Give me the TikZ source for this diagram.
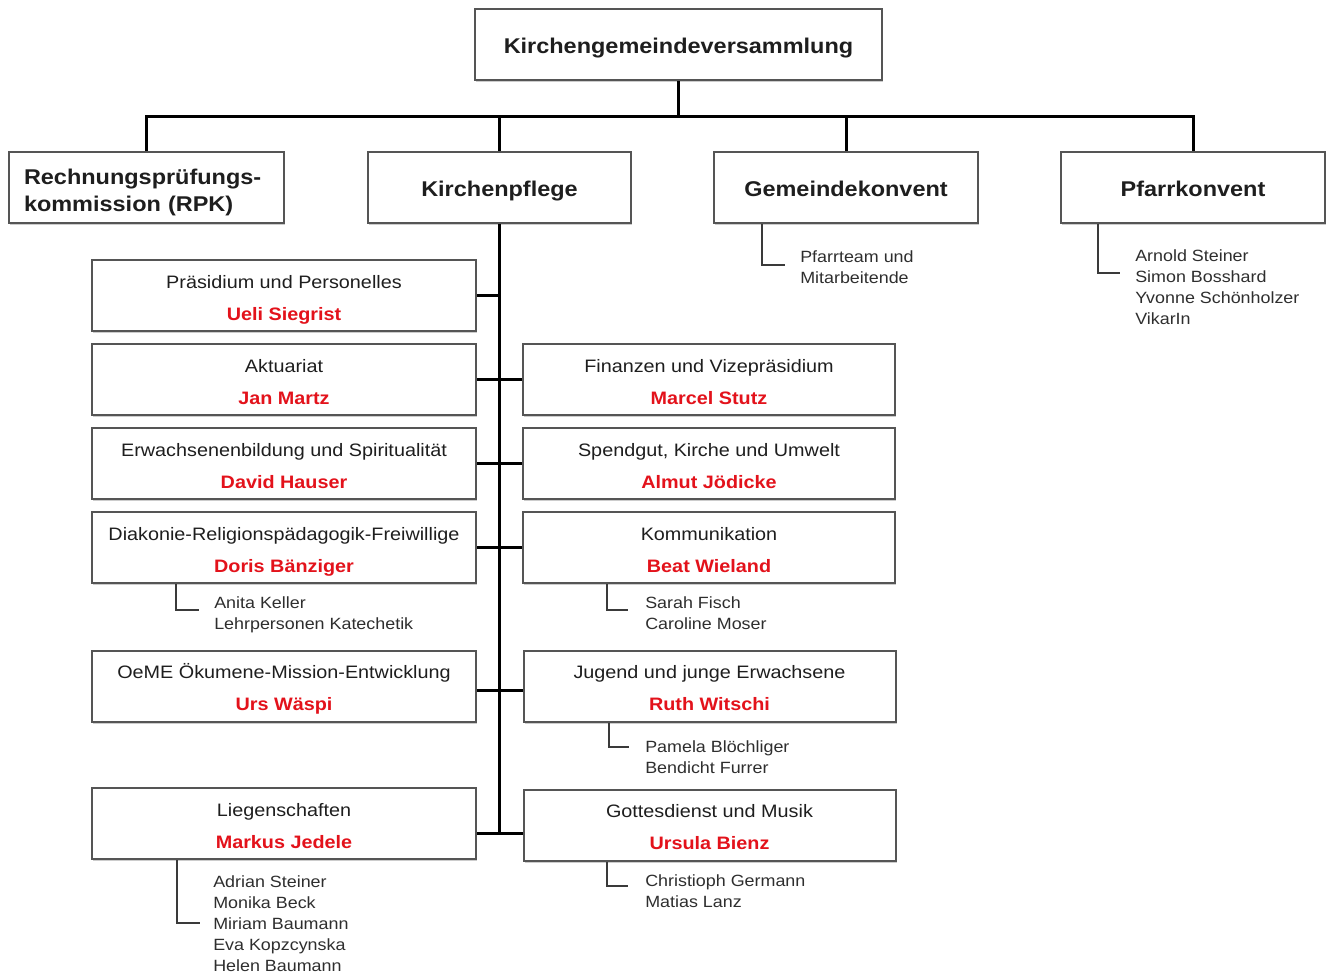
\documentclass[tikz,border=0pt]{standalone}
\usepackage{fontspec}
\setmainfont{Liberation Sans}[FakeStretch=1.1]
\usetikzlibrary{shadows}
\definecolor{boxline}{HTML}{555555}
\definecolor{txt}{HTML}{1E1E1E}
\definecolor{namered}{HTML}{E3121B}
\definecolor{subtxt}{HTML}{2E2E2E}
\definecolor{subline}{HTML}{3A3A3A}
\newcommand\unitname[1]{{\bfseries\color{namered}#1}}
\newcommand\unittext[2]{\rule{0pt}{16pt}#1\\\unitname{#2}\rule[-3pt]{0pt}{3pt}}
\newcommand\headtext[1]{\rule{0pt}{17.5pt}#1\rule[-3.5pt]{0pt}{3.5pt}}
\begin{document}
\begin{tikzpicture}[x=0.75pt,y=-0.75pt,
  box/.style={draw=boxline, line width=1.5pt, fill=white, inner sep=0pt, minimum height=53.25pt,
    drop shadow={opacity=0.2, shadow xshift=1pt, shadow yshift=-1.5pt, fill=black}},
  head/.style={box, font=\fontsize{16}{20.5}\selectfont\bfseries, text=txt, align=center},
  unitl/.style={box, minimum width=288pt, font=\fontsize{13.5}{24}\selectfont, text=txt, align=center},
  unitr/.style={unitl, minimum width=279pt},
  conn/.style={line width=2.25pt, black},
  subl/.style={line width=1.5pt, subline},
  list/.style={anchor=north west, inner sep=0pt, align=left, font=\fontsize{12.2}{15.75}\selectfont, text=subtxt},
]
\useasboundingbox (0,0) rectangle (1330,976);

% top level
\node[head, minimum width=305.25pt] (kgv) at (678.5,44.5) {\headtext{Kirchengemeindeversammlung}};
\node[head, minimum width=206.25pt, text width=183.75pt, align=left] (rpk) at (146.5,187.5) {\rule{0pt}{19pt}Rechnungsprüfungs-\\kommission (RPK)\rule[-3.5pt]{0pt}{3.5pt}};
\node[head, minimum width=197.25pt] (kp) at (499.5,187.5) {\headtext{Kirchenpflege}};
\node[head, minimum width=198pt] (gk) at (846,187.5) {\headtext{Gemeindekonvent}};
\node[head, minimum width=198pt] (pk) at (1193,187.5) {\headtext{Pfarrkonvent}};

% left column
\node[unitl] (u1) at (284,295.5) {\unittext{Präsidium und Personelles}{Ueli Siegrist}};
\node[unitl] (u2) at (284,379.5) {\unittext{Aktuariat}{Jan Martz}};
\node[unitl] (u3) at (284,463.5) {\unittext{Erwachsenenbildung und Spiritualität}{David Hauser}};
\node[unitl] (u4) at (284,547.5) {\unittext{Diakonie-Religionspädagogik-Freiwillige}{Doris Bänziger}};
\node[unitl] (u5) at (284,686) {\unittext{OeME Ökumene-Mission-Entwicklung}{Urs Wäspi}};
\node[unitl] (u6) at (284,823.5) {\unittext{Liegenschaften}{Markus Jedele}};

% right column
\node[unitr] (r2) at (709,379.5) {\unittext{Finanzen und Vizepräsidium}{Marcel Stutz}};
\node[unitr] (r3) at (709,463.5) {\unittext{Spendgut, Kirche und Umwelt}{Almut Jödicke}};
\node[unitr] (r4) at (709,547.5) {\unittext{Kommunikation}{Beat Wieland}};
\node[unitr] (r5) at (709.5,686) {\unittext{Jugend und junge Erwachsene}{Ruth Witschi}};
\node[unitr] (r6) at (709.5,825) {\unittext{Gottesdienst und Musik}{Ursula Bienz}};

% connectors
\draw[conn] (kgv.south) -- ++(0,37);
\draw[conn] (rpk.north) -- ++(0,-35) -| (pk.north);
\draw[conn] (kp.north) -- ++(0,-35);
\draw[conn] (gk.north) -- ++(0,-35);
\coordinate (j5) at (499.5,690);
\coordinate (j6) at (499.5,833);
\draw[conn] (kp.south) -- (kp.south |- j6);
\draw[conn] (u1.east) -- (u1.east -| kp.south);
\draw[conn] (u2.east) -- (r2.west);
\draw[conn] (u3.east) -- (r3.west);
\draw[conn] (u4.east) -- (r4.west);
\draw[conn] (u5.east |- j5) -- (r5.west |- j5);
\draw[conn] (u6.east |- j6) -- (r6.west |- j6);

% sub lists
\coordinate (gkL) at (762,265);
\draw[subl] (gkL |- gk.south) -- (gkL) -- ++(23,0);
\node[list] (gkT) at (800,247.5) {\strut Pfarrteam und\\Mitarbeitende};

\coordinate (pkL) at (1098,273);
\draw[subl] (pkL |- pk.south) -- (pkL) -- ++(22,0);
\node[list] (pkT) at (1135,246.5) {\strut Arnold Steiner\\Simon Bosshard\\Yvonne Schönholzer\\VikarIn};

\coordinate (u4L) at (176,610);
\draw[subl] (u4L |- u4.south) -- (u4L) -- ++(23,0);
\node[list] (u4T) at (214,593.5) {\strut Anita Keller\\Lehrpersonen Katechetik};

\coordinate (r4L) at (607,610);
\draw[subl] (r4L |- r4.south) -- (r4L) -- ++(21,0);
\node[list] (r4T) at (645,593.5) {\strut Sarah Fisch\\Caroline Moser};

\coordinate (r5L) at (609,747);
\draw[subl] (r5L |- r5.south) -- (r5L) -- ++(20,0);
\node[list] (r5T) at (645,737.5) {\strut Pamela Blöchliger\\Bendicht Furrer};

\coordinate (u6L) at (177,923);
\draw[subl] (u6L |- u6.south) -- (u6L) -- ++(23,0);
\node[list] (u6T) at (213,873) {\strut Adrian Steiner\\Monika Beck\\Miriam Baumann\\Eva Kopzcynska\\Helen Baumann};

\coordinate (r6L) at (607,886);
\draw[subl] (r6L |- r6.south) -- (r6L) -- ++(21,0);
\node[list] (r6T) at (645,871.5) {\strut Christioph Germann\\Matias Lanz};
\end{tikzpicture}
\end{document}
